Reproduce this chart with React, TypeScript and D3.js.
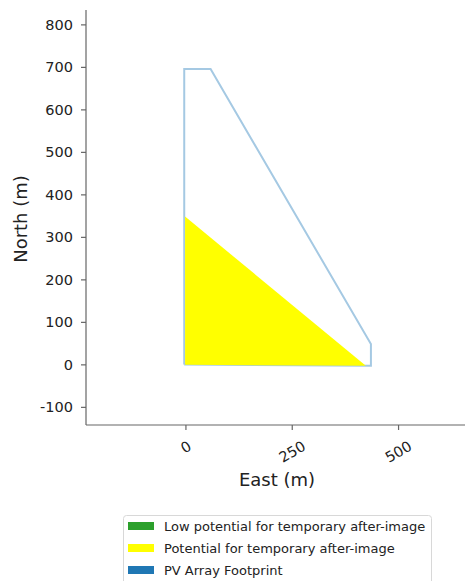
import React, { useEffect, useRef } from 'react';
import * as d3 from 'd3';

// PV array outline (east, north in metres)
const footprintEast = [-4, -4, 58, 435, 435, -4];
const footprintNorth = [1, 696, 696, 49, -2, 1];

// glare zone: potential for temporary after-image
const glareEast = [-2, -2, 423];
const glareNorth = [0, 349, -2];

const xTicks = [0, 250, 500];
const yTicks = [-100, 0, 100, 200, 300, 400, 500, 600, 700, 800];

const legendLabels = [
  'Low potential for temporary after-image',
  'Potential for temporary after-image',
  'PV Array Footprint',
];
const legendColors = ['#2ca02c', '#ffff00', '#1f77b4'];

const App = () => {
  const svgRef = useRef<SVGSVGElement>(null);

  useEffect(() => {
    const width = 465;
    const height = 581;
    const plot = { left: 86, right: 470, top: 10, bottom: 425 };
    const font = 'DejaVu Sans, sans-serif';

    const svg = d3.select(svgRef.current);
    svg.selectAll('*').remove();
    svg.attr('width', width).attr('height', height);

    // equal aspect: ~0.425 px per metre on both axes
    const xScale = d3.scaleLinear().domain([-235, 668]).range([plot.left, plot.right]);
    const yScale = d3.scaleLinear().domain([-141.5, 835]).range([plot.bottom, plot.top]);

    const g = svg.append('g');

    const line = d3.line<[number, number]>()
      .x(d => xScale(d[0]))
      .y(d => yScale(d[1]));

    const footprint = footprintEast.map((e, i) => [e, footprintNorth[i]] as [number, number]);
    g.append('path')
      .attr('d', line(footprint))
      .attr('fill', 'none')
      .attr('stroke', '#a5c9e3')
      .attr('stroke-width', 2)
      .attr('stroke-linejoin', 'miter');

    const glare = glareEast.map((e, i) => [e, glareNorth[i]] as [number, number]);
    g.append('path')
      .attr('d', line(glare) + 'Z')
      .attr('fill', '#ffff00')
      .attr('stroke', 'none');

    // spines (left + bottom only)
    const axisColor = '#666';
    g.append('line')
      .attr('x1', plot.left).attr('x2', plot.left)
      .attr('y1', plot.top).attr('y2', plot.bottom)
      .attr('stroke', axisColor).attr('stroke-width', 1.2);
    g.append('line')
      .attr('x1', plot.left).attr('x2', width)
      .attr('y1', plot.bottom).attr('y2', plot.bottom)
      .attr('stroke', axisColor).attr('stroke-width', 1.2);

    // y ticks
    const yt = g.selectAll('.ytick').data(yTicks).enter().append('g')
      .attr('transform', d => `translate(0,${yScale(d)})`);
    yt.append('line')
      .attr('x1', plot.left - 5).attr('x2', plot.left)
      .attr('stroke', axisColor).attr('stroke-width', 1.2);
    yt.append('text')
      .attr('x', plot.left - 13)
      .attr('dy', '0.35em')
      .attr('text-anchor', 'end')
      .attr('font-family', font)
      .attr('font-size', 14.5)
      .attr('fill', '#222')
      .text(d => String(d));

    // x ticks, rotated 30deg
    const xt = g.selectAll('.xtick').data(xTicks).enter().append('g')
      .attr('transform', d => `translate(${xScale(d)},0)`);
    xt.append('line')
      .attr('y1', plot.bottom).attr('y2', plot.bottom + 5)
      .attr('stroke', axisColor).attr('stroke-width', 1.2);
    xt.append('text')
      .attr('transform', d => {
        const w = String(d).length * 0.636 * 14.5;
        const bh = w * 0.5 + 11 * 0.866;
        return `translate(0,${440 + bh / 2}) rotate(-30)`;
      })
      .attr('text-anchor', 'middle')
      .attr('dy', '0.35em')
      .attr('font-family', font)
      .attr('font-size', 14.5)
      .attr('fill', '#222')
      .text(d => String(d));

    // axis labels
    svg.append('text')
      .attr('x', 277).attr('y', 486)
      .attr('text-anchor', 'middle')
      .attr('font-family', font).attr('font-size', 18).attr('fill', '#222')
      .text('East (m)');
    svg.append('text')
      .attr('transform', 'translate(27,219) rotate(-90)')
      .attr('text-anchor', 'middle')
      .attr('font-family', font).attr('font-size', 18).attr('fill', '#222')
      .text('North (m)');

    // legend
    const leg = svg.append('g');
    leg.append('rect')
      .attr('x', 123.5).attr('y', 515.5)
      .attr('width', 308).attr('height', 80)
      .attr('rx', 3)
      .attr('fill', '#fff')
      .attr('stroke', '#d8d8d8');
    const rows = leg.selectAll('.row').data(legendLabels).enter().append('g')
      .attr('transform', (_, i) => `translate(0,${526 + i * 22})`);
    rows.append('rect')
      .attr('x', 128).attr('y', -4)
      .attr('width', 26).attr('height', 8)
      .attr('fill', (_, i) => legendColors[i]);
    rows.append('text')
      .attr('x', 164).attr('dy', '0.35em')
      .attr('font-family', font).attr('font-size', 13).attr('fill', '#222')
      .text(d => d);
  }, []);

  return (
    <svg
      ref={svgRef}
      style={{ position: 'absolute', left: 0, top: 0, display: 'block' }}
    ></svg>
  );
};

export default App;
